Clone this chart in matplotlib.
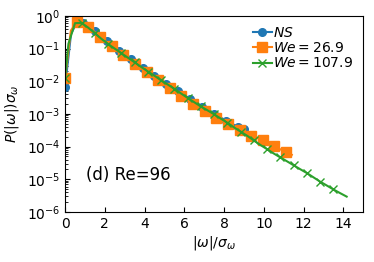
import numpy as np
import matplotlib
matplotlib.use('Agg')
import matplotlib.pyplot as plt

# NS (blue), log10 of P(|w|) sigma_w
ns_x = [0.0, 0.3, 0.6, 0.9, 1.2, 1.5, 1.8, 2.1, 2.4, 2.7, 3.0, 3.3, 3.6, 3.9, 4.2,
        4.5, 4.8, 5.1, 5.4, 5.7, 6.0, 6.3, 6.6, 6.9, 7.2, 7.5, 7.8, 8.1, 8.4, 8.7, 9.0]
ns_log = [-2.17, -0.55, -0.18, -0.20, -0.32, -0.47, -0.62, -0.78, -0.93, -1.07, -1.20,
          -1.33, -1.46, -1.58, -1.71, -1.83, -1.95, -2.07, -2.19, -2.31, -2.43, -2.55,
          -2.66, -2.78, -2.89, -3.00, -3.10, -3.20, -3.30, -3.40, -3.47]

# We = 26.9 (orange)
we1_x = [0.00, 0.29, 0.59, 0.88, 1.17, 1.46, 1.76, 2.05, 2.34, 2.63, 2.93, 3.22, 3.51,
         3.80, 4.10, 4.39, 4.68, 4.97, 5.27, 5.56, 5.85, 6.14, 6.44, 6.73, 7.02, 7.31,
         7.61, 7.90, 8.19, 8.48, 8.78, 9.07, 9.36, 9.65, 9.95, 10.24, 10.53, 10.82,
         11.12, 11.41]
we1_log = [-1.90, -0.45, -0.17, -0.20, -0.33, -0.48, -0.64, -0.79, -0.93, -1.07, -1.20,
           -1.33, -1.46, -1.59, -1.72, -1.85, -1.97, -2.09, -2.21, -2.33, -2.45, -2.57,
           -2.69, -2.80, -2.91, -3.02, -3.12, -3.22, -3.32, -3.41, -3.50, -3.58, -3.66,
           -3.73, -3.81, -3.90, -3.99, -4.08, -4.16, -4.25]

# We = 107.9 (green)
we2_x = [0.0, 0.17, 0.50, 0.83, 1.17, 1.50, 1.83, 2.17, 2.50, 2.83, 3.17, 3.50, 3.83,
         4.17, 4.50, 4.83, 5.17, 5.50, 5.83, 6.17, 6.50, 6.83, 7.17, 7.50, 7.83, 8.17,
         8.50, 8.83, 9.17, 9.50, 9.83, 10.17, 10.50, 10.83, 11.17, 11.50, 11.83, 12.17,
         12.50, 12.83, 13.17, 13.50, 13.83, 14.17]
we2_log = [-1.90, -0.85, -0.22, -0.21, -0.36, -0.53, -0.70, -0.86, -1.00, -1.14, -1.28,
           -1.42, -1.56, -1.70, -1.83, -1.97, -2.10, -2.23, -2.37, -2.51, -2.64, -2.77,
           -2.89, -3.01, -3.14, -3.27, -3.41, -3.54, -3.67, -3.81, -3.95, -4.08, -4.21,
           -4.33, -4.45, -4.57, -4.69, -4.81, -4.94, -5.07, -5.19, -5.31, -5.42, -5.53]

fig = plt.figure(figsize=(3.74, 2.62), dpi=100)
ax = fig.add_axes([0.174, 0.191, 0.797, 0.748])

ax.plot(ns_x, 10**np.array(ns_log), '-o', color='tab:blue', lw=1.5, ms=5.5,
        markevery=[0] + list(range(3, 31, 2)) + [30], label=r'$NS$')
ax.plot(we1_x, 10**np.array(we1_log), '-s', color='tab:orange', lw=1.5, ms=6.5,
        markevery=2, label=r'$We=26.9$')
ax.plot(we2_x, 10**np.array(we2_log), '-x', color='tab:green', lw=1.5, ms=5.5,
        markevery=[0] + list(range(3, 42, 2)), label=r'$We=107.9$')

ax.set_yscale('log')
ax.set_xlim(0, 15)
ax.set_ylim(1e-6, 1)
ax.set_xticks([0, 2, 4, 6, 8, 10, 12, 14])
ax.tick_params(direction='in', labelsize=10)
ax.tick_params(which='minor', direction='in')
ax.set_xlabel(r'$|\omega|/\sigma_\omega$', fontsize=10, labelpad=2)
ax.set_ylabel(r'$P(|\omega|)\sigma_\omega$', fontsize=10, labelpad=4)
ax.text(0.07, 0.19, '(d) Re=96', transform=ax.transAxes, fontsize=12,
        va='center', ha='left')
ax.legend(loc='upper right', frameon=False, fontsize=10, handlelength=1.4,
          handletextpad=0.1, labelspacing=0.1, borderaxespad=0.3)

fig.savefig('out.png', dpi=100)
